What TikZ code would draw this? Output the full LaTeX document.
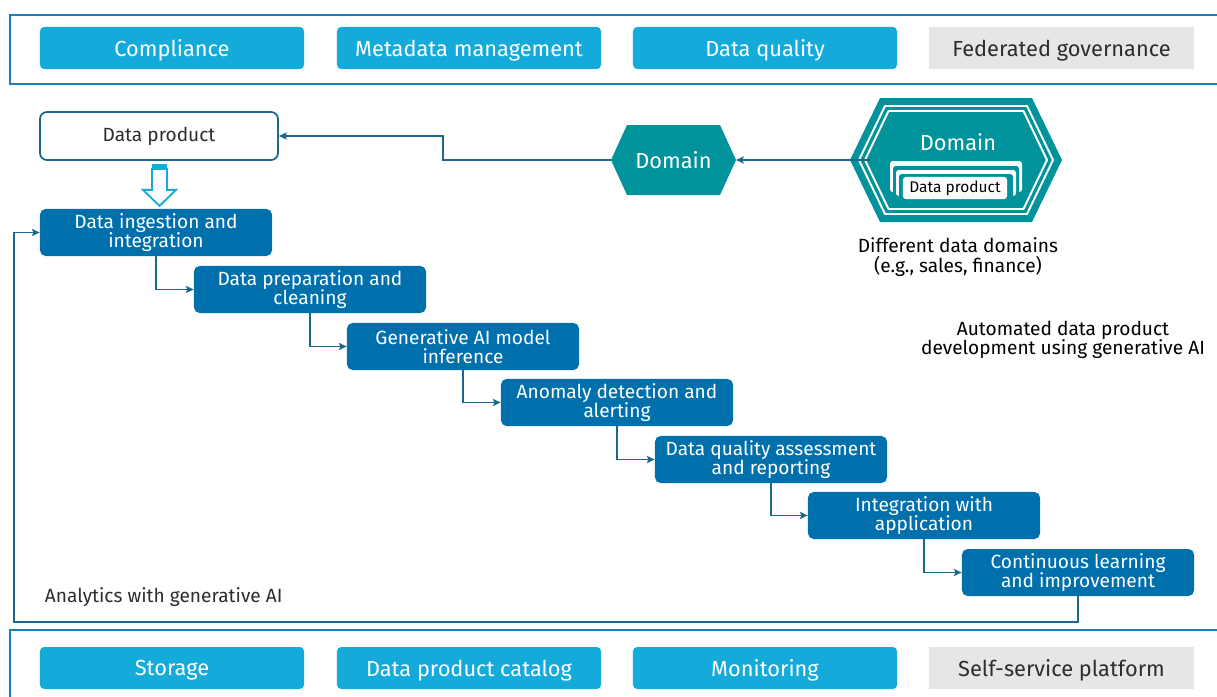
\documentclass[tikz,border=0pt]{standalone}
\usepackage{fontspec}
\setmainfont{Fira Sans}
\usetikzlibrary{calc, arrows.meta}

\definecolor{govblue}{RGB}{20,171,219}
\definecolor{govgray}{RGB}{230,230,230}
\definecolor{stepblue}{RGB}{0,112,173}
\definecolor{domteal}{RGB}{0,147,155}
\definecolor{linkblue}{RGB}{28,104,138}
\definecolor{frameblue}{RGB}{30,125,190}
\definecolor{txtgray}{RGB}{45,45,45}

% hexagon: centre x, centre y, half width, half height, corner offset
\newcommand{\hexpath}[5]{(#1-#3,#2) -- (#1-#3+#5,#2-#4) -- (#1+#3-#5,#2-#4) -- (#1+#3,#2) -- (#1+#3-#5,#2+#4) -- (#1-#3+#5,#2+#4) -- cycle}

\tikzset{
  tile/.style={minimum width=6.6cm, minimum height=1.05cm, inner sep=0pt, text depth=0pt,
    font=\fontsize{15.5}{17}\selectfont},
  bluetile/.style={tile, fill=govblue, text=white, rounded corners=3pt},
  graytile/.style={tile, fill=govgray, text=txtgray},
  stepbox/.style={fill=stepblue, text=white, rounded corners=4pt,
    minimum width=5.8cm, minimum height=1.175cm, inner sep=0pt, align=center,
    font=\fontsize{13.6}{13.8}\selectfont},
  link/.style={draw=linkblue, line width=1.25pt},
  note/.style={text=black, align=center, font=\fontsize{13.6}{13.8}\selectfont},
}

\begin{document}
\begin{tikzpicture}[x=0.025cm, y=-0.025cm, >={Stealth[length=5.5pt, width=5pt, inset=1pt]}]
  \useasboundingbox (0,0) rectangle (1217,697);

  % governance and platform frames
  \draw[frameblue, line width=1.1pt] (1240,15) -- (10,15) -- (10,84) -- (1240,84);
  \draw[frameblue, line width=1.1pt] (1240,630) -- (10,630) -- (10,720);

  \node[bluetile] (comp) at (172,48) {Compliance};
  \node[bluetile] (meta) at (469,48) {Metadata management};
  \node[bluetile] (qual) at (765,48) {Data quality};
  \node[graytile] (fedgov) at (1061.5,48) {Federated governance};

  \node[bluetile] (store) at (172,668) {Storage};
  \node[bluetile] (catal) at (469,668) {Data product catalog};
  \node[bluetile] (monit) at (765,668) {Monitoring};
  \node[graytile] (selfserv) at (1061.5,668) {Self-service platform};

  % data product and pipeline
  \node[draw=linkblue, line width=1.25pt, fill=white, rounded corners=5pt, minimum width=5.95cm,
    minimum height=1.2cm, text=txtgray, font=\fontsize{13.6}{15}\selectfont] (dp) at (159,136) {Data product};

  \node[stepbox] (s1) at (156,232.5) {Data ingestion and\\integration};
  \node[stepbox] (s2) at (310,289.5) {Data preparation and\\cleaning};
  \node[stepbox] (s3) at (463,346.5) {Generative AI model\\inference};
  \node[stepbox] (s4) at (617,402.5) {Anomaly detection and\\alerting};
  \node[stepbox] (s5) at (771,459.5) {Data quality assessment\\and reporting};
  \node[stepbox] (s6) at (924,515.5) {Integration with\\application};
  \node[stepbox] (s7) at (1078,572.5) {Continuous learning\\and improvement};

  \foreach \a/\b in {s1/s2, s2/s3, s3/s4, s4/s5, s5/s6, s6/s7}
    \draw[link, ->] (\a.south) |- (\b.west);

  \coordinate (loop) at (14,622);
  \draw[link, ->] (s7.south) |- (loop) |- (s1.west);

  \node[anchor=west, text=txtgray, font=\fontsize{13.6}{15}\selectfont] (analytics) at (40,597) {Analytics with generative AI};

  % hollow arrow into the pipeline
  \fill[govblue] ($(dp.south)+(-7,3)$) rectangle ($(dp.south)+(8,8)$);
  \draw[govblue, line width=1.3pt, fill=white] ($(dp.south)+(-7,8)$) -- ($(dp.south)+(-7,29)$)
    -- ($(dp.south)+(-16,29)$) -- ($(dp.south)+(0.5,45)$) -- ($(dp.south)+(17,29)$)
    -- ($(dp.south)+(8,29)$) -- ($(dp.south)+(8,8)$) -- cycle;

  % single domain
  \fill[domteal] \hexpath{673.5}{160}{62.5}{35}{16};
  \node[text=white, font=\fontsize{15.5}{17}\selectfont] (domain) at (673.5,160) {Domain};
  \coordinate (domW) at (611,160);
  \coordinate (domE) at (736,160);
  \coordinate (bend) at (443,160);
  \draw[link, ->] (domW) -- (bend) |- (dp.east);

  % different data domains
  \fill[domteal] \hexpath{956}{160}{106}{62}{30};
  \draw[white, line width=1.4pt] \hexpath{956}{160}{97}{54}{26};
  \draw[white, line width=1.4pt] \hexpath{956}{160}{91}{49}{23.5};
  \node[text=white, font=\fontsize{15.5}{17}\selectfont] (inner) at (958,142) {Domain};
  \fill[white, rounded corners=2pt] (890,161) rectangle (1022,192);
  \fill[domteal, rounded corners=2pt] (893,166) rectangle (1019,196);
  \fill[white, rounded corners=2pt] (896,170) rectangle (1016,196);
  \fill[domteal, rounded corners=2pt] (899,174) rectangle (1013,199);
  \node[fill=white, rounded corners=2pt, minimum width=2.6cm, minimum height=0.55cm, inner sep=0pt,
    text=black, font=\fontsize{11}{12}\selectfont] (innerdp) at (955,188) {Data product};
  \coordinate (bigW) at (871,160);
  \draw[link, ->] (bigW) -- (domE);

  \node[note] (domains) at (958,257) {Different data domains\\(e.g., sales, finance)};
  \node[note] (automated) at (1063,340) {Automated data product\\development using generative AI};
\end{tikzpicture}
\end{document}
